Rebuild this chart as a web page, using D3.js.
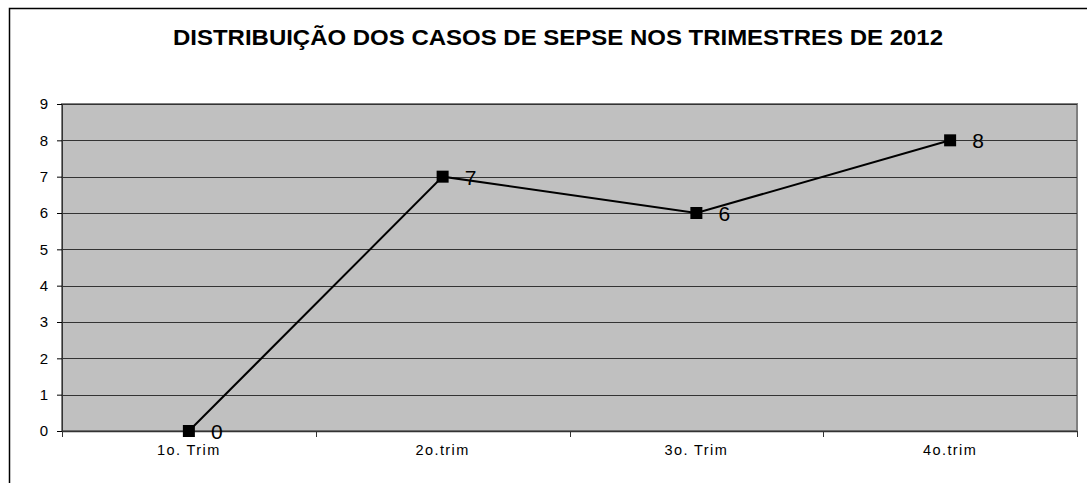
<!DOCTYPE html>
<html>
<head>
<meta charset="utf-8">
<script src="https://cdn.jsdelivr.net/npm/d3@7"></script>
<style>
  body { margin: 0; background: #fff; }
  text { font-family: "Liberation Sans", Arial, sans-serif; }
</style>
</head>
<body>
<div id="chart"></div>
<script>
// Data
var categories = ["1o. Trim", "2o.trim", "3o. Trim", "4o.trim"];
var casos = [0, 7, 6, 8];
var yTicks = [0, 1, 2, 3, 4, 5, 6, 7, 8, 9];

var width = 1087,
    height = 483;

var margin = {top: 104, right: 10, bottom: 52, left: 62};

var svg = d3.select("#chart")
            .append("svg")
              .attr("width", width)
              .attr("height", height);

// Outer chart border
svg.append("rect")
  .attr("x", 9.5)
  .attr("y", 8.5)
  .attr("width", width + 20)
  .attr("height", height + 20)
  .attr("fill", "white")
  .attr("stroke", "black")
  .attr("stroke-width", 1.5);

// Title (stretched to the width seen in the original)
svg.append("text")
  .attr("x", 173)
  .attr("y", 45)
  .attr("font-weight", "bold")
  .attr("font-size", "22px")
  .attr("textLength", 770)
  .attr("lengthAdjust", "spacingAndGlyphs")
  .text("DISTRIBUIÇÃO DOS CASOS DE SEPSE NOS TRIMESTRES DE 2012");

var plotW = 1077 - margin.left,
    plotH = 431 - margin.top;

var g = svg.append("g")
           .attr("transform", "translate(" + margin.left + "," + margin.top + ")");

var x = d3.scaleBand()
          .domain(categories)
          .range([0, plotW]);

var y = d3.scaleLinear()
          .domain([0, 9])
          .range([plotH, 0]);

// Plot background
g.append("rect")
  .attr("width", plotW)
  .attr("height", plotH)
  .attr("fill", "#c0c0c0")
  .attr("stroke", "#808080")
  .attr("stroke-width", 2);

// Gridlines
g.selectAll(".grid")
  .data(yTicks)
  .enter()
  .append("line")
    .attr("class", "grid")
    .attr("x1", 0)
    .attr("x2", plotW)
    .attr("y1", function(d) { return Math.round(y(d)) + 0.5; })
    .attr("y2", function(d) { return Math.round(y(d)) + 0.5; })
    .attr("stroke", "#333")
    .attr("stroke-width", 1);

// Y axis
var yAxis = g.append("g")
  .call(d3.axisLeft(y).tickValues(yTicks).tickSize(5).tickPadding(9));
yAxis.select(".domain").attr("stroke", "#333");
yAxis.selectAll("text")
  .style("font-size", "15px")
  .style("font-family", "'Liberation Sans', Arial, sans-serif")
  .attr("fill", "black");

// X axis (ticks at category boundaries)
var xAxis = g.append("g")
  .attr("transform", "translate(0," + plotH + ")")
  .call(d3.axisBottom(x).tickSize(0).tickPadding(14));
xAxis.select(".domain").attr("stroke", "#333").attr("stroke-width", 1.5);
xAxis.selectAll("text")
  .style("font-size", "14.5px")
  .style("font-family", "'Liberation Sans', Arial, sans-serif")
  .style("letter-spacing", "1.4px")
  .attr("fill", "black");

var bounds = categories.map(function(c) { return x(c); }).concat([plotW]);
g.selectAll(".xtick")
  .data(bounds)
  .enter()
  .append("line")
    .attr("class", "xtick")
    .attr("x1", function(d) { return Math.round(d) + 0.5; })
    .attr("x2", function(d) { return Math.round(d) + 0.5; })
    .attr("y1", plotH)
    .attr("y2", plotH + 6)
    .attr("stroke", "#333");

var cx = function(d, i) { return x(categories[i]) + x.bandwidth() / 2; };

// Line
var line = d3.line()
             .x(function(d, i) { return cx(d, i); })
             .y(function(d) { return y(d); });

g.append("path")
  .datum(casos)
  .attr("d", line)
  .attr("fill", "none")
  .attr("stroke", "black")
  .attr("stroke-width", 2);

// Markers
g.selectAll(".marker")
  .data(casos)
  .enter()
  .append("rect")
    .attr("class", "marker")
    .attr("x", function(d, i) { return cx(d, i) - 6; })
    .attr("y", function(d) { return y(d) - 6; })
    .attr("width", 12)
    .attr("height", 12)
    .attr("fill", "black");

// Value labels
g.selectAll(".label")
  .data(casos)
  .enter()
  .append("text")
    .attr("class", "label")
    .attr("x", function(d, i) { return cx(d, i) + 22; })
    .attr("y", function(d) { return y(d) + 8; })
    .attr("font-size", "21px")
    .text(function(d) { return d; });
</script>
</body>
</html>
